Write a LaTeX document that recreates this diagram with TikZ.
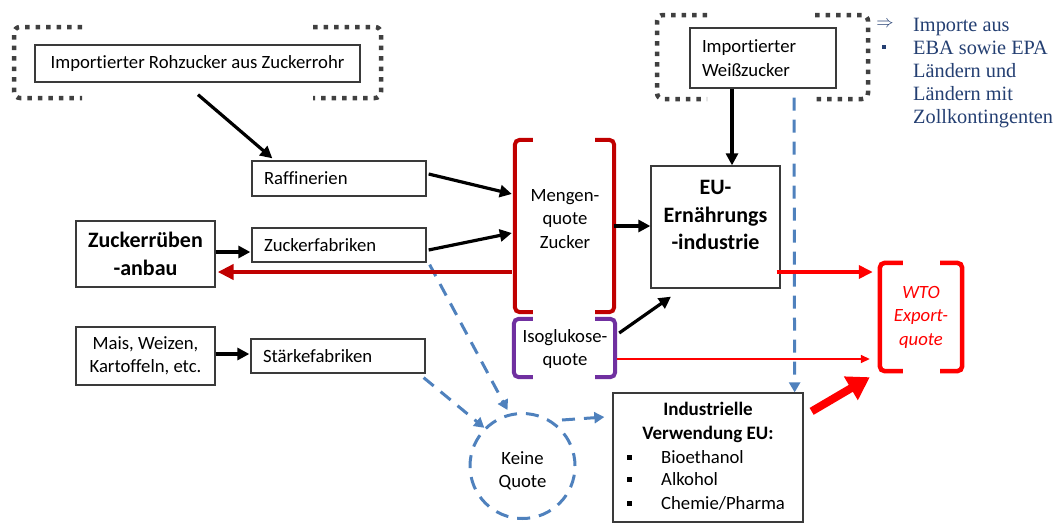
\documentclass[tikz,border=0pt]{standalone}
\usepackage{fontspec}
\setmainfont{Carlito}[Ligatures={NoCommon}]
\newfontfamily\legfont{Liberation Serif}
\usetikzlibrary{arrows.meta,calc}
\definecolor{dred}{HTML}{C00000}
\definecolor{bred}{HTML}{FF0000}
\definecolor{purp}{HTML}{7030A0}
\definecolor{dblue}{HTML}{4F81BD}
\definecolor{navy}{HTML}{243F72}
\definecolor{dotc}{HTML}{404040}
\definecolor{boxc}{HTML}{3A3A3A}
\begin{document}
\begin{tikzpicture}[x=1pt,y=-1pt,
  box/.style={draw=boxc,line width=1.3pt,inner sep=0pt},
  reg/.style={font=\fontsize{18.7}{23.5}\selectfont},
  bld/.style={font=\fontsize{22}{27.5}\selectfont\bfseries},
  blk/.style={line width=3.2pt,-{Triangle[length=12pt,width=12pt]}},
  dotbr/.style={draw=dotc,line width=4.5pt,dash pattern=on 4.5pt off 6pt,rounded corners=6pt},
  brk/.style={line width=4pt,rounded corners=5pt},
  bdash/.style={draw=dblue,line width=3pt,dash pattern=on 13pt off 9pt},
  btip/.style={-{Triangle[length=10pt,width=11pt]}},
  ]
\useasboundingbox (0,0) rectangle (1063,525);

% dotted brackets
\draw[dotbr] (82,27) -- (14,27) -- (14,98) -- (82,98);
\draw[dotbr] (313,27) -- (381,27) -- (381,98) -- (313,98);
\draw[dotbr] (707,15) -- (657,15) -- (657,99) -- (707,99);
\draw[dotbr] (815,15) -- (868,15) -- (868,99) -- (815,99);

% boxes
\node[box,reg,minimum width=325pt,minimum height=37pt] (rohz) at (197.5,63.5) {Importierter Rohzucker aus Zuckerrohr};
\node[box,reg,text width=150pt,align=left,inner xsep=12pt,minimum height=35pt] (raff) at (339,178.5) {Raffinerien};
\node[box,reg,text width=150pt,align=left,inner xsep=12pt,minimum height=34pt] (zfab) at (339,245) {Zuckerfabriken};
\node[box,bld,minimum width=139pt,minimum height=66pt,align=center] (anbau) at (145.5,254) {Zuckerrüben\\-anbau};
\node[box,reg,minimum width=139pt,minimum height=58pt,align=center] (mais) at (145.5,356) {Mais, Weizen,\\Kartoffeln, etc.};
\node[box,reg,text width=150pt,align=left,inner xsep=12pt,minimum height=34pt] (staerke) at (338,356) {Stärkefabriken};
\node[box,reg,text width=122pt,align=left,inner xsep=12pt,minimum height=60pt] (weiss) at (763,58) {Importierter\\Weißzucker};
\node[box,minimum width=129pt,minimum height=122pt] (eu) at (715.5,227) {};
\node[bld,align=center] (eut) at (715.5,215) {EU-\\Ernährungs\\-industrie};
\node[box,minimum width=190pt,minimum height=129pt] (ind) at (708,457.5) {};
\node[font=\fontsize{19}{24}\selectfont\bfseries,align=center] (indt) at (708,422) {Industrielle\\Verwendung EU:};
\node[fill=black,inner sep=0pt,minimum size=5pt] (b1) at (629,457) {};
\node[fill=black,inner sep=0pt,minimum size=5pt] (b2) at (629,479) {};
\node[fill=black,inner sep=0pt,minimum size=5pt] (b3) at (629,503) {};
\node[reg,anchor=west,inner sep=0pt] (i1) at (661,457) {Bioethanol};
\node[reg,anchor=west,inner sep=0pt] (i2) at (661,479) {Alkohol};
\node[reg,anchor=west,inner sep=0pt] (i3) at (661,503) {Chemie/Pharma};

% bracket groups
\node[minimum width=99pt,minimum height=172pt,inner sep=0pt] (mengen) at (564.5,226) {};
\node[reg,align=center] (mengent) at (565,219) {Mengen-\\quote\\Zucker};
\draw[brk,dred] ($(mengen.north west)+(18,0)$) -- (mengen.north west) -- (mengen.south west) -- ($(mengen.south west)+(18,0)$);
\draw[brk,dred] ($(mengen.north east)+(-19,0)$) -- (mengen.north east) -- (mengen.south east) -- ($(mengen.south east)+(-19,0)$);

\node[minimum width=101pt,minimum height=58pt,inner sep=0pt] (iso) at (564.5,348) {};
\node[reg,align=center] (isot) at (565,349) {Isoglukose-\\quote};
\draw[brk,purp] ($(iso.north west)+(19,0)$) -- (iso.north west) -- (iso.south west) -- ($(iso.south west)+(19,0)$);
\draw[brk,purp] ($(iso.north east)+(-20,0)$) -- (iso.north east) -- (iso.south east) -- ($(iso.south east)+(-20,0)$);

\node[minimum width=82pt,minimum height=108pt,inner sep=0pt] (wto) at (921,317) {};
\node[font=\fontsize{18.7}{23.5}\selectfont\itshape,text=bred,align=center] (wtot) at (921,317) {WTO\\Export-\\quote};
\draw[brk,bred,line width=4.5pt] ($(wto.north west)+(23,0)$) -- (wto.north west) -- (wto.south west) -- ($(wto.south west)+(23,0)$);
\draw[brk,bred,line width=4.5pt] ($(wto.north east)+(-22,0)$) -- (wto.north east) -- (wto.south east) -- ($(wto.south east)+(-22,0)$);

% Keine Quote
\node[circle,bdash,minimum size=105pt,inner sep=0pt,reg,align=center] (kq) at (522.5,466) {};
\node[reg,align=center] (kqt) at (522.5,471) {Keine\\Quote};

% legend
\node[text=navy,font=\fontsize{17}{18}\selectfont,inner sep=0pt] (la) at (885,24) {$\Rightarrow$};
\node[fill=navy,inner sep=0pt,minimum size=4.5pt] (lb) at (884,47) {};
\node[font=\legfont\fontsize{20.3}{23}\selectfont,text=navy,align=left,anchor=north west,inner sep=0pt] (leg) at (913,18.5) {Importe aus\\EBA sowie EPA\\Ländern und\\Ländern mit\\Zollkontingenten};

% blue dashed arrows
\draw[bdash,btip] ($(weiss.south)+(31,9)$) -- ($(ind.north east)+(-9,0)$);
\draw[bdash,btip] ($(zfab.south east)+(3,2)$) -- ($(kq.center)+(-15,-56)$);
\draw[bdash,btip] ($(staerke.south east)+(-2,4)$) -- (kq.135);
\draw[bdash,btip] ($(kq.center)+(39.5,-46)$) -- ($(ind.west)+(-8,-40.5)$);

% black arrows
\draw[blk] ($(rohz.south)+(0.5,12)$) -- ($(raff.north west)+(21,-2)$);
\draw[blk] ($(anbau.east)+(0,-2)$) -- ($(zfab.west)+(-1,7)$);
\draw[blk] ($(mais.east)+(0,-2)$) -- ($(staerke.west)+(-1,-2)$);
\draw[blk] ($(raff.east)+(2,-4.5)$) -- ($(mengen.west)+(-3,-32)$);
\draw[blk] ($(zfab.east)+(2,5)$) -- ($(mengen.west)+(-3,7)$);
\draw[blk,line width=4pt] (mengen.east) -- (mengen.east -| eu.west);
\draw[blk] ($(weiss.south)+(-31,0)$) -- ($(eu.north)+(16.5,0)$);
\draw[blk] ($(iso.east)+(4,-15)$) -- ($(eu.south)+(-44.5,8)$);

% red arrows
\draw[dred,line width=4.5pt,-{Triangle[length=16pt,width=15pt]}] ($(mengen.west)+(-3,46)$) -- ($(anbau.east)+(2,18)$);
\draw[bred,line width=4pt,-{Triangle[length=14pt,width=13pt]}] ($(eu.east)+(-4,45)$) -- ($(wto.west)+(-7,-45)$);
\draw[bred,line width=1.5pt,-{Triangle[length=9pt,width=8pt]}] ($(iso.east)+(2,11)$) -- ($(wto.west)+(-10,42)$);
\draw[bred,line width=8pt,-{Triangle[length=22pt,width=26pt]}] ($(ind.north east)+(8,19)$) -- ($(wto.south west)+(-10,6)$);
\end{tikzpicture}
\end{document}
